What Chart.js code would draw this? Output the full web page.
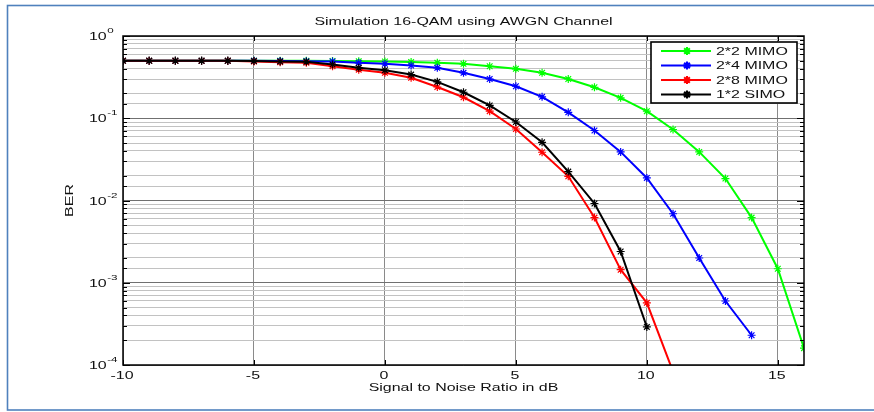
<!DOCTYPE html>
<html>
<head>
<meta charset="utf-8">
<title>Simulation 16-QAM using AWGN Channel</title>
<script src="https://cdn.jsdelivr.net/npm/chart.js@4.4.1/dist/chart.umd.min.js"></script>
<style>
    html, body { margin: 0; padding: 0; background: #ffffff; }
    #wrap { position: relative; width: 874px; height: 412px; }
</style>
</head>
<body>
<div id="wrap"><canvas id="berChart"></canvas></div>
<script>
// SNR axis (dB)
const snr = [-10, -9, -8, -7, -6, -5, -4, -3, -2, -1, 0, 1, 2, 3, 4, 5, 6, 7, 8, 9, 10, 11, 12, 13, 14, 15, 16];

// BER per curve (each starts at -10 dB)
const mimo2x2 = [0.5, 0.5, 0.5, 0.5, 0.5, 0.5, 0.5, 0.5, 0.498, 0.494, 0.49, 0.482, 0.472, 0.459, 0.429, 0.399, 0.357, 0.30, 0.238, 0.177, 0.122, 0.073, 0.039, 0.0185, 0.0062, 0.00148, 0.00016];
const mimo2x4 = [0.5, 0.5, 0.5, 0.5, 0.5, 0.5, 0.495, 0.493, 0.49, 0.472, 0.46, 0.438, 0.41, 0.357, 0.30, 0.245, 0.182, 0.118, 0.071, 0.039, 0.0188, 0.0069, 0.002, 0.0006, 0.00023];
const mimo2x8 = [0.5, 0.5, 0.5, 0.5, 0.5, 0.49, 0.48, 0.472, 0.43, 0.39, 0.357, 0.31, 0.24, 0.18, 0.122, 0.074, 0.0386, 0.0197, 0.0062, 0.00144, 0.00057, 0.000083];
const simo1x2 = [0.5, 0.5, 0.5, 0.5, 0.5, 0.495, 0.49, 0.486, 0.45, 0.41, 0.384, 0.34, 0.277, 0.207, 0.143, 0.09, 0.051, 0.0225, 0.0092, 0.0024, 0.00029];

const seriesLabels = ['2*2 MIMO', '2*4 MIMO', '2*8 MIMO', '1*2 SIMO'];
const seriesColors = ['#00ff00', '#0000ff', '#ff0000', '#000000'];

const xTicks = [-10, -5, 0, 5, 10, 15];
const yDecades = [0, -1, -2, -3, -4];

const FONT = '"Liberation Sans", Arial, sans-serif';
const SX = 1.45; // the figure is stretched sideways, text too

function toPoints(values) {
    return values.map((v, i) => ({ x: snr[i], y: v }));
}

function isDecade(v) {
    const l = Math.log10(v);
    return Math.abs(l - Math.round(l)) < 1e-6;
}

function wideText(ctx, text, x, y, size, align, rot) {
    ctx.save();
    ctx.font = size + 'px ' + FONT;
    ctx.fillStyle = '#111';
    ctx.textAlign = align;
    ctx.textBaseline = 'middle';
    ctx.translate(x, y);
    if (rot) ctx.rotate(rot);
    ctx.scale(SX, 1);
    ctx.fillText(text, 0, 0);
    ctx.restore();
}

const matlabLook = {
    id: 'matlabLook',
    beforeDraw(chart) {
        const ctx = chart.ctx;
        ctx.save();
        ctx.fillStyle = '#fff';
        ctx.fillRect(0, 0, chart.width, chart.height);
        ctx.strokeStyle = '#4f81bd';
        ctx.lineWidth = 1.6;
        ctx.strokeRect(7.5, 5.5, 880, 404.5);
        ctx.restore();
    },
    afterDatasetsDraw(chart) {
        const ctx = chart.ctx;
        const a = chart.chartArea;
        const xs = chart.scales.x;
        const ys = chart.scales.y;

        ctx.save();
        ctx.strokeStyle = '#000';
        ctx.lineWidth = 1;
        ctx.beginPath();
        ys.ticks.forEach(t => {
            const py = Math.round(ys.getPixelForValue(t.value)) + 0.5;
            const len = isDecade(t.value) ? 7 : 4;
            ctx.moveTo(a.left, py); ctx.lineTo(a.left + len, py);
            ctx.moveTo(a.right, py); ctx.lineTo(a.right - len, py);
        });
        xTicks.forEach(v => {
            const px = Math.round(xs.getPixelForValue(v)) + 0.5;
            ctx.moveTo(px, a.bottom); ctx.lineTo(px, a.bottom - 5);
            ctx.moveTo(px, a.top); ctx.lineTo(px, a.top + 5);
        });
        ctx.stroke();
        ctx.lineWidth = 1.5;
        ctx.strokeRect(a.left, a.top, a.right - a.left, a.bottom - a.top);

        // legend box, top right inside the axes
        const bx = 651, by = 42, bw = 146, bh = 61;
        ctx.fillStyle = '#fff';
        ctx.fillRect(bx, by, bw, bh);
        ctx.lineWidth = 1.6;
        ctx.strokeRect(bx, by, bw, bh);
        chart.data.datasets.forEach((ds, i) => {
            const ly = by + 9 + i * 14.5;
            ctx.strokeStyle = ds.borderColor;
            ctx.lineWidth = 2;
            ctx.beginPath();
            ctx.moveTo(bx + 10, ly); ctx.lineTo(bx + 60, ly);
            ctx.stroke();
            Chart.helpers.drawPoint(ctx, { pointStyle: 'star', radius: 4, borderWidth: 1.2 }, bx + 36, ly);
            wideText(ctx, ds.label, bx + 65, ly + 0.5, 11, 'left');
        });
        ctx.restore();

        // texts
        const cx = (a.left + a.right) / 2;
        wideText(ctx, 'Simulation 16-QAM using AWGN Channel', cx, 22, 11, 'center');
        wideText(ctx, 'Signal to Noise Ratio in dB', cx, 388, 11, 'center');
        wideText(ctx, 'BER', 70, (a.top + a.bottom) / 2, 11, 'center', -Math.PI / 2);
        xTicks.forEach(v => {
            wideText(ctx, String(v), xs.getPixelForValue(v) - 1, 375.5, 11, 'center');
        });
        yDecades.forEach(k => {
            const py = ys.getPixelForValue(Math.pow(10, k));
            ctx.save();
            ctx.font = '11px ' + FONT;
            const w = ctx.measureText('10').width * SX;
            ctx.restore();
            wideText(ctx, '10', 89, py + 1, 11, 'left');
            wideText(ctx, String(k), 89 + w + 0.5, py - 5, 8, 'left');
        });
    }
};

function buildChart() {
    const ctx = document.getElementById('berChart').getContext('2d');
    const curves = [mimo2x2, mimo2x4, mimo2x8, simo1x2];

    new Chart(ctx, {
        type: 'line',
        data: {
            datasets: curves.map((vals, i) => ({
                label: seriesLabels[i],
                data: toPoints(vals),
                borderColor: seriesColors[i],
                backgroundColor: seriesColors[i],
                borderWidth: 2,
                pointStyle: 'star',
                pointRadius: 4,
                pointBorderWidth: 1.2,
                pointBorderColor: seriesColors[i],
                tension: 0,
                fill: false,
                order: 4 - i
            }))
        },
        options: {
            responsive: true,
            maintainAspectRatio: false,
            animation: false,
            events: [],
            layout: { padding: { left: 0, right: 70, top: 36, bottom: 0 } },
            plugins: {
                legend: { display: false },
                title: { display: false },
                tooltip: { enabled: false }
            },
            scales: {
                x: {
                    type: 'linear',
                    min: -10,
                    max: 16,
                    afterBuildTicks: s => { s.ticks = xTicks.map(v => ({ value: v })); },
                    afterFit: s => { s.height = 47; },
                    ticks: { display: false },
                    grid: { color: '#8a8a8a', lineWidth: 1, drawTicks: false },
                    border: { display: false }
                },
                y: {
                    type: 'logarithmic',
                    min: 1e-4,
                    max: 1,
                    afterFit: s => { s.width = 123; },
                    ticks: { display: false },
                    grid: {
                        color: c => (c.tick && isDecade(c.tick.value)) ? '#707070' : '#c2c2c2',
                        lineWidth: 1,
                        drawTicks: false
                    },
                    border: { display: false }
                }
            }
        },
        plugins: [matlabLook]
    });
}

document.addEventListener('DOMContentLoaded', () => {
    buildChart();
});
</script>
</body>
</html>
